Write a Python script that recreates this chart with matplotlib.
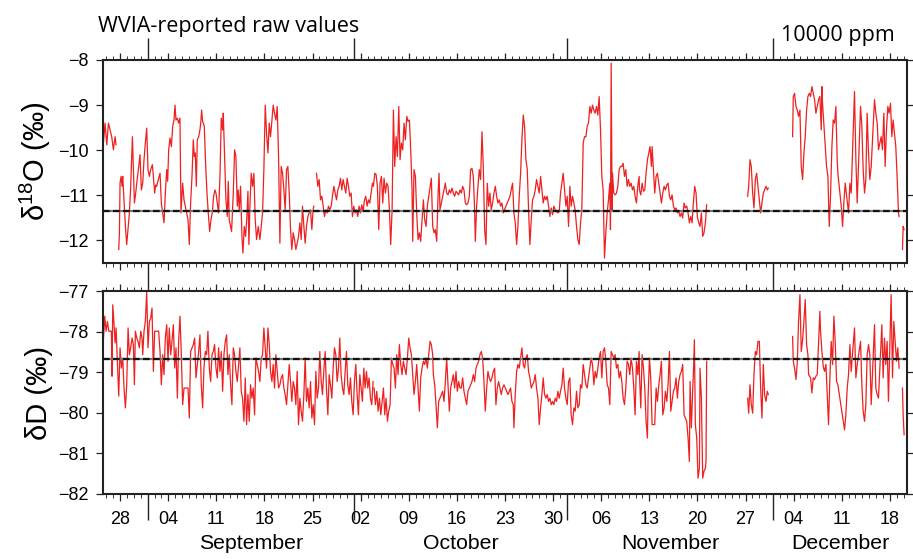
import numpy as np
import matplotlib
matplotlib.use("Agg")
import matplotlib.pyplot as plt
import matplotlib.dates as mdates
from matplotlib.transforms import blended_transform_factory

plt.rcParams['font.family'] = ['Liberation Sans', 'DejaVu Sans']
plt.rcParams['mathtext.fontset'] = 'custom'
plt.rcParams['mathtext.rm'] = 'Liberation Sans'
plt.rcParams['mathtext.it'] = 'Liberation Sans:italic'

# time axis: days since 2017-09-01 00:00, one list per continuous run of data
T0 = np.datetime64('2017-09-01T00:00')
XMIN_DAY, XMAX_DAY = -6.5, 110.5

o18_run1_day = [-6.44, -6.20, -5.95, -5.71, -5.23, -4.99, -4.74, -4.60]
o18_run1_val = [-9.84, -9.40, -9.88, -9.40, -9.70, -9.99, -9.70, -9.88]

o18_run2_day = [-4.21, -4.11, -4.02, -3.87, -3.73, -3.63, -3.44, -3.24, -3.05, -2.90,
                -2.66, -2.47, -2.22, -2.08, -1.93, -1.74, -1.59, -1.35, -1.11, -0.92,
                -0.72, -0.53, -0.34, -0.14, 0.05, 0.25, 0.44, 0.68, 0.83, 1.02,
                1.17, 1.31, 1.55, 1.80, 1.99, 2.18, 2.38, 2.57, 2.77, 2.91,
                3.06, 3.25, 3.45, 3.64, 3.83, 3.98, 4.12, 4.32, 4.51, 4.70,
                4.85, 4.99, 5.09, 5.29, 5.48, 5.67, 5.87, 6.06, 6.25, 6.45,
                6.64, 6.79, 6.93, 7.08, 7.22, 7.42, 7.61, 7.76, 7.85, 8.00,
                8.24, 8.43, 8.63, 8.82, 9.02, 9.21, 9.40, 9.60, 9.79, 9.94,
                10.13, 10.32, 10.52, 10.71, 10.91, 11.00, 11.20, 11.39, 11.58, 11.73,
                11.87, 12.07, 12.21, 12.46, 12.65, 12.84, 13.04, 13.18, 13.33, 13.52,
                13.72, 13.86, 14.06, 14.25, 14.44, 14.59, 14.73, 14.88, 15.07, 15.27,
                15.46, 15.65, 15.85, 16.09, 16.33, 16.53, 16.72, 16.91, 17.11, 17.30,
                17.50, 17.69, 17.88, 18.08, 18.27, 18.46, 18.66, 18.85, 19.05, 19.24,
                19.43, 19.63, 19.82, 20.01, 20.21, 20.40, 20.60, 20.79, 20.98, 21.18,
                21.37, 21.56, 21.76, 21.95, 22.15, 22.34, 22.53, 22.73, 22.92, 23.11,
                23.31, 23.50, 23.70, 23.89, 24.08, 24.18]
o18_run2_val = [-12.20, -11.83, -10.73, -10.58, -10.80, -10.58, -11.10, -11.69, -12.09, -11.83,
                -11.39, -10.80, -9.70, -10.43, -11.17, -10.95, -10.73, -10.43, -10.10, -10.88,
                -10.73, -10.21, -9.84, -9.51, -10.43, -10.58, -10.43, -10.32, -10.58, -10.95,
                -10.77, -10.80, -10.65, -10.51, -11.17, -11.39, -11.61, -10.95, -10.43, -10.69,
                -9.99, -9.73, -9.92, -9.47, -9.33, -9.00, -9.33, -9.29, -9.40, -9.29,
                -11.39, -11.02, -10.73, -11.10, -11.24, -11.39, -11.54, -12.09, -11.17, -10.58,
                -9.77, -10.14, -10.06, -10.80, -9.77, -9.70, -9.55, -9.33, -9.11, -9.36,
                -9.47, -10.29, -10.95, -11.39, -11.80, -11.54, -11.39, -11.02, -10.88, -10.95,
                -11.17, -11.39, -10.58, -9.29, -9.55, -9.18, -10.14, -11.10, -11.47, -10.69,
                -11.54, -11.69, -11.80, -10.95, -9.99, -10.14, -11.24, -10.88, -11.32, -10.80,
                -11.91, -12.28, -11.69, -11.91, -11.47, -10.91, -12.09, -11.24, -10.51, -10.80,
                -10.51, -11.54, -11.98, -11.69, -11.98, -11.69, -11.39, -10.43, -9.00, -9.62,
                -10.06, -9.40, -9.70, -9.33, -9.00, -9.18, -9.33, -9.03, -10.14, -12.06,
                -10.36, -10.51, -10.88, -11.32, -10.43, -10.36, -10.95, -11.76, -12.20, -11.83,
                -11.98, -12.20, -12.06, -11.91, -11.61, -11.98, -11.24, -11.69, -12.06, -11.69,
                -11.47, -11.39, -11.32, -11.76, -11.32, -11.24]

o18_run3_day = [24.57, 24.76, 24.96, 25.15, 25.34, 25.54, 25.73, 25.92, 26.12, 26.31,
                26.51, 26.70, 26.89, 27.09, 27.28, 27.48, 27.67, 27.86, 28.06, 28.25,
                28.44, 28.64, 28.83, 29.03, 29.22, 29.41, 29.61, 29.80, 29.99, 30.19,
                30.38, 30.58, 30.77, 30.96, 31.16, 31.35, 31.55, 31.74, 31.93, 32.13,
                32.32, 32.51, 32.71,
                32.85, 33.05, 33.24, 33.43, 33.63, 33.82, 34.02, 34.21, 34.40, 34.60,
                34.79, 34.98, 35.18, 35.37, 35.57, 35.76, 35.95, 36.15, 36.34, 36.54,
                36.73, 36.92, 37.12, 37.31, 37.50, 37.70, 37.89, 38.09, 38.28, 38.47,
                38.57, 38.76, 38.96, 39.15, 39.35, 39.54, 39.73, 39.93, 40.12, 40.31,
                40.51, 40.70, 40.90, 41.09, 41.28, 41.48, 41.67, 41.86, 42.06, 42.25,
                42.40, 42.54, 42.74, 42.93, 43.12, 43.32, 43.51, 43.71, 43.90, 44.09,
                44.29, 44.48, 44.67, 44.87, 45.06, 45.26, 45.45, 45.64, 45.84, 46.03,
                46.23, 46.42, 46.61, 46.81, 47.00, 47.19, 47.39, 47.58, 47.68, 47.87,
                48.07, 48.26, 48.45, 48.65, 48.84, 49.04, 49.23, 49.42, 49.62, 49.81,
                50.00, 50.20, 50.39, 50.59, 50.78, 50.97, 51.17, 51.36, 51.55, 51.75,
                51.94, 52.14, 52.33, 52.52, 52.72, 52.91, 53.10, 53.30, 53.49, 53.69,
                53.88, 54.07, 54.27, 54.46, 54.66, 54.85, 55.04, 55.24, 55.43, 55.62,
                55.82, 56.01, 56.21, 56.40, 56.59, 56.79, 56.98, 57.18, 57.37, 57.56,
                57.76, 57.95, 58.14, 58.34, 58.53, 58.73, 58.92, 59.11, 59.31, 59.50,
                59.70, 59.89, 60.08, 60.28, 60.47, 60.66, 60.86, 61.05, 61.25, 61.44,
                61.63, 61.83, 62.02, 62.21, 62.41, 62.60, 62.80, 62.99, 63.18, 63.38,
                63.57, 63.77, 63.96, 64.15, 64.35, 64.54, 64.73, 64.93, 65.12, 65.32,
                65.51, 65.70, 65.90, 66.09, 66.28, 66.48, 66.67, 66.87, 67.06, 67.25,
                67.35, 67.45, 67.59, 67.64, 67.83, 68.03, 68.22, 68.42, 68.61, 68.80,
                69.00, 69.19, 69.39, 69.58, 69.77, 69.97, 70.16, 70.35, 70.55, 70.74,
                70.93, 71.13, 71.32, 71.52,
                71.57, 71.76, 71.95, 72.15, 72.34, 72.53, 72.73, 72.92, 73.11, 73.31,
                73.41, 73.60, 73.79, 73.99, 74.18, 74.38, 74.57, 74.76, 74.96, 75.15,
                75.34, 75.54, 75.73, 75.93, 76.12, 76.31, 76.51, 76.70, 76.89, 77.09,
                77.28, 77.48, 77.67, 77.86, 78.06, 78.25, 78.44, 78.64, 78.83, 79.03,
                79.22, 79.41, 79.61, 79.80, 79.99, 80.19, 80.38, 80.58, 80.77, 80.96,
                81.16, 81.35]
o18_run3_val = [-10.51, -10.80, -10.65, -11.10, -11.02, -11.24, -11.47, -11.32, -11.39, -11.24,
                -11.32, -11.24, -11.02, -10.80, -10.95, -11.10, -10.88, -10.80, -10.62, -10.88,
                -10.65, -10.80, -10.95, -10.62, -10.80, -11.02, -10.95, -11.47, -11.24, -11.39,
                -11.32, -11.47, -11.24, -11.39, -11.21, -11.36, -11.10, -11.02, -11.24, -11.10,
                -11.17, -10.95, -10.73,
                -10.80, -10.51, -10.54, -10.80, -11.76, -10.73, -10.58, -11.17, -10.62, -10.95,
                -10.73, -10.80, -11.32, -12.09, -11.32, -9.11, -10.36, -9.70, -10.14, -9.03,
                -10.21, -9.84, -9.99, -9.40, -9.77, -9.25, -9.36, -9.33, -9.99, -10.88,
                -12.02, -10.43, -10.58, -11.39, -11.98, -11.83, -12.02, -11.54, -11.10, -11.54,
                -11.69, -11.24, -11.02, -10.80, -10.62, -11.69, -11.83, -11.76, -12.02, -11.02,
                -10.51, -11.32, -11.17, -11.02, -10.88, -10.73, -10.95, -10.99, -10.88, -10.95,
                -10.84, -10.95, -11.02, -10.91, -10.95, -10.99, -10.88, -10.95, -10.80, -10.88,
                -11.17, -11.21, -11.17, -11.02, -10.43, -10.40, -10.58, -11.32, -12.02, -11.24,
                -10.80, -10.43, -10.65, -9.59, -10.36, -11.76, -12.09, -10.73, -11.24, -10.95,
                -11.32, -11.17, -10.95, -10.80, -11.02, -11.17, -11.10, -11.24, -11.17, -11.39,
                -11.32, -11.24, -11.17, -11.10, -11.02, -10.88, -10.73, -11.39, -11.61, -12.09,
                -11.69, -11.02, -10.51, -9.77, -9.22, -9.47, -10.21, -10.43, -11.32, -12.09,
                -11.54, -11.10, -11.02, -10.88, -10.65, -10.80, -10.95, -10.58, -10.88, -11.17,
                -11.02, -11.10, -11.02, -11.24, -11.47, -11.28, -11.43, -11.24, -11.32, -11.36,
                -11.39, -11.36, -10.95, -10.73, -10.51, -10.88, -11.24, -11.02, -11.69, -10.80,
                -11.24, -11.02, -11.17, -11.32, -11.69, -11.98, -12.09, -11.61, -11.32, -9.84,
                -9.70, -9.70, -9.47, -9.40, -9.03, -9.18, -9.00, -9.11, -9.18, -9.03,
                -9.22, -8.81, -9.55, -10.58, -10.88, -12.39, -11.83, -11.39, -11.10, -10.73,
                -11.76, -8.07, -11.32, -10.51, -10.95, -10.99, -10.95, -10.80, -10.43, -10.36,
                -10.36, -10.29, -10.58, -10.43, -10.80, -10.65, -10.80, -10.73, -10.88, -10.80,
                -11.02, -11.17, -10.80, -10.58,
                -10.88, -10.99, -10.73, -10.91, -10.88, -10.51, -10.21, -10.06, -9.92, -10.36,
                -9.92, -10.43, -10.95, -10.58, -10.51, -10.73, -10.95, -11.17, -10.95, -10.80,
                -10.88, -10.77, -10.73, -11.02, -11.10, -10.99, -11.24, -11.32, -11.28, -11.39,
                -11.36, -11.47, -11.39, -11.50, -11.17, -11.28, -11.24, -11.39, -11.61, -11.47,
                -11.61, -11.17, -10.80, -10.95, -11.47, -11.61, -11.69, -11.39, -11.91, -11.83,
                -11.61, -11.21]

o18_run4_day = [87.31, 87.46, 87.65, 87.84, 88.04, 88.23, 88.43, 88.62, 88.81, 89.01,
                89.20, 89.39, 89.59, 89.78, 89.98, 90.17, 90.31]
o18_run4_val = [-11.02, -10.80, -10.21, -10.36, -10.95, -11.28, -10.65, -10.51, -10.80, -11.10,
                -11.39, -11.17, -10.95, -10.88, -10.80, -10.88, -10.84]

o18_run5_day = [93.85, 93.95, 94.14, 94.34, 94.53, 94.72, 94.92, 95.11, 95.31, 95.50,
                95.69, 95.89, 96.08, 96.27, 96.47, 96.66, 96.86, 97.05, 97.24, 97.44,
                97.63, 97.82, 98.02, 98.12, 98.21, 98.79, 98.99, 99.18, 99.37, 99.57,
                99.76, 99.96, 100.15, 100.34, 100.44, 100.93, 101.12, 101.31, 101.51, 101.99,
                102.19, 102.38, 102.86, 103.06, 103.25, 103.74, 103.93, 104.12, 104.32, 104.51,
                104.70, 104.90, 105.09, 105.29, 105.77, 105.96, 106.16, 106.35, 106.55, 106.74,
                106.93, 107.13, 107.32, 107.51, 107.71, 107.90, 108.10, 108.29, 108.48, 108.87,
                109.06, 109.26, 109.35]
o18_run5_val = [-9.70, -8.81, -8.74, -9.03, -9.11, -9.25, -9.11, -10.36, -10.65, -10.06,
                -9.70, -9.11, -8.81, -8.74, -8.81, -8.59, -8.74, -8.88, -9.18, -9.03,
                -8.88, -8.81, -9.55, -8.59, -8.96, -10.36, -10.58, -11.69, -11.02, -9.92,
                -9.33, -9.40, -9.03, -10.21, -10.51, -11.24, -11.69, -11.17, -10.73, -11.39,
                -10.73, -10.95, -8.70, -10.21, -11.17, -9.03, -9.47, -10.43, -10.95, -10.65,
                -9.18, -10.06, -10.65, -10.36, -8.88, -9.18, -9.40, -9.99, -9.84, -9.70,
                -9.99, -9.18, -10.36, -9.55, -9.03, -9.18, -8.96, -9.70, -9.33, -9.92,
                -10.58, -11.39, -11.47]

o18_run6_day = [109.84, 109.94, 110.08]
o18_run6_val = [-12.20, -11.69, -11.76]

dd_run1_day = [-6.44, -6.25, -6.05, -5.86, -5.66, -5.47, -5.28, -5.18, -5.08, -4.89,
               -4.74, -4.60, -4.21, -4.02, -3.82, -3.63, -3.44, -3.24, -3.05, -2.85,
               -2.66, -2.47, -2.27, -2.08, -1.93, -1.79, -1.59, -1.40, -1.21, -1.01,
               -0.82, -0.72, -0.53, -0.34, -0.14, 0.05, 0.25, 0.44, 0.63, 0.83,
               1.02, 1.31, 1.60, 1.80, 1.99, 2.18, 2.38, 2.57, 2.77, 2.96,
               3.15, 3.35, 3.54, 3.74, 3.93, 4.12, 4.32, 4.51, 4.70, 4.90,
               5.09, 5.29, 5.58, 5.87, 6.06, 6.25, 6.45, 6.64, 6.84, 7.03,
               7.22, 7.42, 7.61, 7.80, 8.00, 8.19, 8.39, 8.58, 8.77, 8.97,
               9.16, 9.36, 9.55, 9.74, 9.94, 10.13, 10.32, 10.52, 10.71, 10.91,
               11.10, 11.29, 11.49, 11.68, 11.87, 12.07, 12.26, 12.46, 12.65, 12.84,
               13.04, 13.23, 13.42, 13.62, 13.81, 14.01, 14.20, 14.39, 14.59, 14.78,
               14.97, 15.17, 15.36, 15.56, 15.75, 15.94, 16.14, 16.33, 16.53, 16.72,
               16.91, 17.11, 17.30, 17.50, 17.69, 17.88, 18.08, 18.27, 18.46, 18.66,
               18.85, 19.05, 19.24, 19.43, 19.63, 19.82, 20.01, 20.21, 20.40, 20.60,
               20.79, 20.98, 21.18, 21.37, 21.56, 21.76, 21.95, 22.15, 22.34, 22.53,
               22.73, 22.92, 23.11, 23.31, 23.50, 23.70, 23.89, 24.08, 24.28, 24.47,
               24.67, 24.86, 25.05, 25.25, 25.44, 25.63, 25.83, 26.02, 26.22, 26.41,
               26.60, 26.80, 26.99, 27.19, 27.38, 27.57, 27.77, 27.96, 28.15, 28.35,
               28.54, 28.74, 28.93, 29.12, 29.32, 29.51, 29.70, 29.90, 30.09, 30.29,
               30.48, 30.67, 30.87, 31.06, 31.25, 31.45, 31.64, 31.84, 32.03, 32.22,
               32.42, 32.61, 32.80]
dd_run1_val = [-78.20, -77.62, -77.99, -77.75, -77.99, -77.99, -77.99, -79.10, -77.34, -77.83,
               -78.28, -77.91, -79.59, -78.40, -78.90, -78.65, -79.39, -79.88, -79.31, -77.91,
               -78.57, -78.40, -78.16, -78.32, -79.31, -77.99, -78.16, -78.24, -78.40, -77.99,
               -78.16, -78.57, -77.99, -77.75, -77.01, -78.40, -77.75, -77.67, -77.42, -78.98,
               -77.99, -77.99, -77.99, -78.49, -79.31, -78.57, -79.06, -78.16, -77.83, -78.73,
               -77.91, -78.57, -78.24, -77.83, -78.90, -78.40, -79.64, -78.24, -77.62, -78.57,
               -79.80, -79.39, -79.39, -79.39, -80.13, -78.49, -78.40, -78.32, -78.16, -79.14,
               -78.81, -78.49, -78.08, -79.31, -79.88, -78.90, -78.49, -78.57, -77.99, -78.90,
               -79.23, -78.57, -78.49, -78.32, -78.90, -79.14, -78.40, -78.98, -78.49, -79.47,
               -78.57, -78.24, -78.08, -79.06, -78.57, -79.31, -79.80, -78.40, -78.57, -78.98,
               -79.23, -78.81, -78.40, -79.47, -79.64, -80.21, -79.14, -80.29, -79.55, -80.21,
               -79.31, -79.64, -79.39, -80.05, -78.65, -78.81, -78.98, -79.23, -78.65, -78.57,
               -77.91, -78.40, -78.90, -77.91, -78.32, -78.98, -79.23, -78.81, -79.39, -78.57,
               -78.98, -79.39, -79.31, -79.14, -79.06, -79.39, -79.55, -79.80, -79.31, -78.81,
               -79.23, -79.72, -79.23, -79.39, -79.80, -78.98, -80.29, -79.64, -79.96, -80.21,
               -79.55, -78.65, -79.72, -79.39, -79.88, -79.23, -80.13, -79.80, -80.29, -78.98,
               -79.64, -79.39, -78.49, -79.23, -79.55, -78.98, -78.49, -79.39, -80.05, -79.06,
               -79.31, -79.64, -78.90, -78.40, -78.57, -79.23, -78.90, -78.16, -79.06, -79.39,
               -79.55, -78.98, -78.49, -79.31, -79.55, -79.14, -79.72, -80.05, -79.23, -78.81,
               -79.55, -80.05, -79.06, -79.39, -79.72, -78.90, -79.39, -78.98, -79.39, -79.14,
               -79.64, -79.80, -79.23]

dd_run2_day = [32.95, 33.14, 33.34, 33.53, 33.73, 33.92, 34.11, 34.31, 34.50, 34.69,
               34.89, 35.08, 35.28, 35.47, 35.66, 35.86, 36.05, 36.24, 36.44, 36.63,
               36.83, 37.02, 37.21, 37.41, 37.60, 37.80, 37.99, 38.18, 38.38, 38.57,
               38.76, 38.96, 39.15, 39.35, 39.54, 39.73, 39.93, 40.12, 40.31, 40.51,
               40.70, 40.90, 41.09, 41.28, 41.48, 41.57, 41.77, 41.96, 42.16, 42.35,
               42.54, 42.74, 42.93, 43.12, 43.32, 43.51, 43.71, 43.90, 44.09, 44.29,
               44.48, 44.67, 44.87, 45.06, 45.26, 45.45, 45.64, 45.84, 46.03, 46.23,
               46.42, 46.61, 46.81, 47.00, 47.19, 47.39, 47.58, 47.78, 47.97, 48.16,
               48.36, 48.55, 48.74, 48.94, 49.13, 49.33, 49.52, 49.71, 49.91, 50.10,
               50.30, 50.49, 50.68, 50.88, 51.07, 51.26, 51.46, 51.65, 51.85, 52.04,
               52.23, 52.43, 52.62, 52.81, 53.01, 53.20, 53.30, 53.49, 53.69, 53.88,
               54.07, 54.27, 54.46, 54.66, 54.85, 55.04, 55.24, 55.43, 55.62, 55.82,
               56.01, 56.21, 56.40, 56.59, 56.79, 56.98, 57.18, 57.37, 57.56, 57.76,
               57.95, 58.14, 58.34, 58.53, 58.73, 58.92, 59.11, 59.31, 59.50, 59.70,
               59.89, 60.08, 60.28, 60.47, 60.66, 60.86, 61.05, 61.25, 61.44, 61.63,
               61.83, 62.02, 62.21, 62.41, 62.60, 62.80, 62.99, 63.18, 63.38, 63.57,
               63.77, 63.96, 64.15, 64.35, 64.54, 64.73, 64.93, 65.12, 65.32, 65.51,
               65.70, 65.90, 66.09, 66.28, 66.48, 66.67, 66.87, 67.06, 67.25, 67.45,
               67.64, 67.83, 68.03, 68.22, 68.42, 68.61, 68.80, 69.00, 69.19, 69.39,
               69.58, 69.77, 69.97, 70.16, 70.35, 70.55, 70.74, 70.93, 71.13, 71.32,
               71.52,
               71.57, 71.76, 71.95, 72.15, 72.34, 72.53, 72.73, 72.82, 73.02, 73.21,
               73.41, 73.60, 73.79, 73.99, 74.18, 74.38, 74.57, 74.76, 74.96, 75.15,
               75.34, 75.54, 75.73, 75.93, 76.12, 76.31, 76.51, 76.70, 76.89, 77.09,
               77.28, 77.48, 77.67, 77.86, 78.06, 78.25, 78.44, 78.64, 78.83, 78.93,
               79.12, 79.32, 79.41, 79.56, 79.70, 79.90, 80.09, 80.29, 80.38, 80.58,
               80.77, 80.96, 81.16, 81.25, 81.35]
dd_run2_val = [-79.39, -79.80, -79.47, -79.96, -79.64, -80.05, -79.72, -79.39, -80.05, -79.64,
               -80.21, -79.96, -79.80, -78.65, -78.81, -78.90, -79.39, -78.57, -79.06, -78.32,
               -78.81, -79.06, -78.73, -78.90, -79.06, -78.65, -78.16, -78.40, -78.57, -79.06,
               -79.55, -79.23, -78.81, -79.39, -79.96, -79.14, -78.90, -78.73, -78.81, -78.65,
               -78.90, -78.57, -78.24, -78.32, -78.57, -79.06, -79.31, -79.80, -80.37, -79.72,
               -79.64, -79.55, -79.47, -79.72, -79.23, -78.65, -79.31, -79.96, -79.39, -79.23,
               -79.06, -79.39, -78.98, -79.47, -79.23, -79.39, -79.39, -79.14, -79.47, -79.64,
               -79.80, -79.47, -79.39, -79.31, -79.23, -79.06, -79.23, -78.90, -78.81, -78.73,
               -78.57, -78.49, -78.65, -79.23, -79.96, -79.39, -78.98, -79.14, -79.23, -79.14,
               -78.98, -78.90, -79.80, -79.39, -79.23, -79.39, -79.55, -79.39, -79.31, -79.39,
               -79.47, -79.55, -79.47, -79.39, -79.72, -79.80, -80.37, -79.55, -78.98, -78.81,
               -78.90, -78.65, -78.40, -78.81, -78.90, -78.65, -78.57, -78.98, -79.14, -79.39,
               -79.31, -79.23, -79.06, -79.39, -79.64, -80.29, -79.88, -79.55, -79.14, -79.55,
               -79.64, -79.55, -79.72, -79.64, -79.80, -79.72, -79.80, -79.64, -79.72, -79.47,
               -79.64, -79.47, -79.31, -78.90, -79.39, -79.64, -79.80, -79.23, -79.14, -80.05,
               -80.29, -79.88, -79.96, -79.47, -79.88, -79.80, -79.31, -79.39, -78.81, -79.06,
               -79.31, -79.39, -79.14, -78.90, -78.65, -78.81, -79.31, -78.98, -79.14, -78.90,
               -78.65, -78.49, -79.14, -78.49, -78.40, -78.73, -79.31, -79.39, -79.80, -78.49,
               -78.57, -78.65, -78.57, -78.90, -78.81, -79.14, -78.98, -79.23, -79.64, -79.80,
               -79.39, -78.73, -78.81, -79.06, -78.65, -78.90, -79.39, -80.05, -78.73, -79.06,
               -78.49,
               -79.06, -79.88, -78.57, -78.90, -79.39, -80.21, -80.62, -79.64, -78.65, -79.14,
               -80.29, -80.29, -80.29, -79.39, -79.72, -79.31, -79.06, -78.73, -80.05, -79.88,
               -79.47, -79.72, -79.31, -78.49, -79.96, -79.72, -79.47, -79.39, -79.14, -79.64,
               -79.23, -79.06, -78.98, -78.81, -80.05, -80.13, -80.21, -80.62, -81.20, -79.23,
               -80.37, -79.39, -79.06, -78.20, -80.29, -80.62, -81.61, -81.36, -78.90, -79.64,
               -81.61, -81.44, -81.36, -81.20, -78.73]

dd_run3_day = o18_run4_day
dd_run3_val = [-79.64, -80.01, -79.31, -79.80, -80.01, -79.06, -78.49, -78.57, -78.24, -78.24,
               -79.39, -80.13, -78.81, -79.55, -79.72, -79.47, -79.55]

dd_run4_day = [93.85, 93.95, 94.14, 94.34, 94.53, 94.72, 94.92, 95.11, 95.31, 95.50,
               95.69, 95.89, 96.08, 96.18, 96.47, 96.66, 96.86, 97.05, 97.24, 97.44,
               97.82, 97.92, 98.12, 98.31, 98.50, 98.70, 98.89, 99.08, 99.28, 99.47,
               99.67, 99.86, 100.05, 100.25, 100.44, 101.22, 101.41, 101.60, 101.80, 101.99,
               102.19, 102.38, 102.86, 103.06, 103.25, 103.74, 103.93, 104.12, 104.32, 104.51,
               104.70, 104.90, 105.09, 105.29, 105.77, 105.96, 106.16, 106.35, 106.84, 107.03,
               107.22, 107.42, 107.61, 107.80, 108.00, 108.19, 108.39, 108.58, 108.77, 108.97,
               109.16, 109.35]
dd_run4_val = [-78.12, -78.73, -78.90, -79.18, -78.77, -77.75, -77.09, -78.49, -78.20, -77.75,
               -77.21, -78.32, -78.57, -79.06, -79.14, -79.51, -79.14, -79.18, -79.10, -79.06,
               -77.50, -77.99, -78.49, -78.86, -78.98, -78.81, -79.55, -80.29, -79.14, -78.24,
               -78.81, -77.62, -78.24, -79.23, -79.31, -80.21, -80.42, -80.05, -79.39, -79.06,
               -78.32, -78.98, -77.91, -79.14, -78.81, -78.24, -79.31, -79.96, -80.21, -79.80,
               -78.57, -78.32, -78.57, -79.80, -77.83, -79.39, -79.55, -79.64, -77.83, -79.14,
               -78.16, -78.81, -78.24, -79.72, -78.40, -77.09, -79.14, -77.75, -78.24, -78.73,
               -78.40, -78.90]

dd_run5_day = [109.84, 109.94, 110.08]
dd_run5_val = [-79.39, -80.05, -80.54]

# campaign means (dashed reference lines)
O18_MEAN = -11.35
DD_MEAN = -78.68

month_names = ['September', 'October', 'November', 'December']
month_starts = ['2017-09-01', '2017-10-01', '2017-11-01', '2017-12-01', '2018-01-01']

RED = '#ee2020'


def to_time(days):
    minutes = np.round(np.asarray(days, dtype=float) * 1440).astype('timedelta64[m]')
    return T0 + minutes


def join_runs(runs):
    # put a NaN between runs so the line breaks where the record has gaps
    days, vals = [], []
    for i, (d, v) in enumerate(runs):
        assert len(d) == len(v)
        if i > 0:
            days.append(0.5 * (days[-1] + d[0]))
            vals.append(np.nan)
        days.extend(d)
        vals.extend(v)
    return to_time(days), np.array(vals)


o18_t, o18_v = join_runs([(o18_run1_day, o18_run1_val), (o18_run2_day, o18_run2_val),
                          (o18_run3_day, o18_run3_val), (o18_run4_day, o18_run4_val),
                          (o18_run5_day, o18_run5_val), (o18_run6_day, o18_run6_val)])
dd_t, dd_v = join_runs([(dd_run1_day, dd_run1_val), (dd_run2_day, dd_run2_val),
                        (dd_run3_day, dd_run3_val), (dd_run4_day, dd_run4_val),
                        (dd_run5_day, dd_run5_val)])

xmin, xmax = to_time([XMIN_DAY, XMAX_DAY])
month_t = np.array(month_starts, dtype='datetime64[m]')

fig = plt.figure(figsize=(9.13, 5.59), dpi=100)
ax1 = fig.add_axes([103 / 913, 1 - 263 / 559, 804 / 913, 203 / 559])
ax2 = fig.add_axes([103 / 913, 1 - 494 / 559, 804 / 913, 203 / 559])


def style(ax, ylim, yticks):
    ax.set_xlim(xmin, xmax)
    ax.set_ylim(*ylim)
    ax.set_yticks(yticks)
    for s in ax.spines.values():
        s.set_linewidth(1.5)
        s.set_color('#222222')
    ax.xaxis.set_major_locator(mdates.WeekdayLocator(byweekday=mdates.MO))
    ax.xaxis.set_minor_locator(mdates.DayLocator())
    ax.xaxis.set_major_formatter(mdates.DateFormatter('%d'))
    ax.tick_params(axis='x', which='major', direction='out', length=5, width=0.9,
                   top=True, bottom=True, color='#222222', labelsize=13, pad=7)
    ax.tick_params(axis='x', which='minor', direction='out', length=2.6, width=0.7,
                   top=True, bottom=True, color='#333333')
    ax.tick_params(axis='y', which='major', direction='out', length=5, width=0.9,
                   left=True, right=True, color='#222222', labelsize=13, pad=5.5)


style(ax1, (-12.5, -8), [-12, -11, -10, -9, -8])
style(ax2, (-82, -77), [-82, -81, -80, -79, -78, -77])
ax1.tick_params(axis='x', labelbottom=False)

ax1.plot(o18_t, o18_v, color=RED, lw=0.9)
ax2.plot(dd_t, dd_v, color=RED, lw=0.9)

for ax, m in ((ax1, O18_MEAN), (ax2, DD_MEAN)):
    ax.axhline(m, color='#777777', lw=1.6, zorder=3)
    ax.axhline(m, color='#111111', lw=1.6, dashes=(3, 1.5), zorder=4)

# long ticks at the start of each month
in_view = month_t[(month_t > xmin) & (month_t < xmax)]
tr1 = blended_transform_factory(ax1.transData, ax1.transAxes)
tr2 = blended_transform_factory(ax2.transData, ax2.transAxes)
ax1.vlines(in_view, 1, 1 + 22 / 203, transform=tr1, color='#222222', lw=1.0, clip_on=False)
ax1.vlines(in_view, -28 / 203, 0, transform=tr1, color='#222222', lw=1.0, clip_on=False)
ax2.vlines(in_view, -26 / 203, 0, transform=tr2, color='#222222', lw=1.0, clip_on=False)

# month names centred on the visible part of each month
for name, a, b in zip(month_names, month_t[:-1], month_t[1:]):
    a, b = max(a, xmin), min(b, xmax)
    mid = a + (b - a) / 2
    ax2.text(mid, -0.27, name, transform=tr2, ha='center', va='baseline', fontsize=15.3)

ax1.set_ylabel('δ$^{18}$O (‰)', fontsize=21)
ax2.set_ylabel('δD (‰)', fontsize=21)
ax1.yaxis.set_label_coords(-0.062, 0.5)
ax2.yaxis.set_label_coords(-0.062, 0.5)

fig.text(98 / 913, 1 - 32 / 559, 'WVIA-reported raw values', family='Open Sans',
         fontsize=15.5, ha='left', va='baseline')
fig.text(781 / 913, 1 - 41.5 / 559, '10000 ppm', family='Open Sans',
         fontsize=15.5, ha='left', va='baseline')

fig.savefig('out.png', dpi=100)
